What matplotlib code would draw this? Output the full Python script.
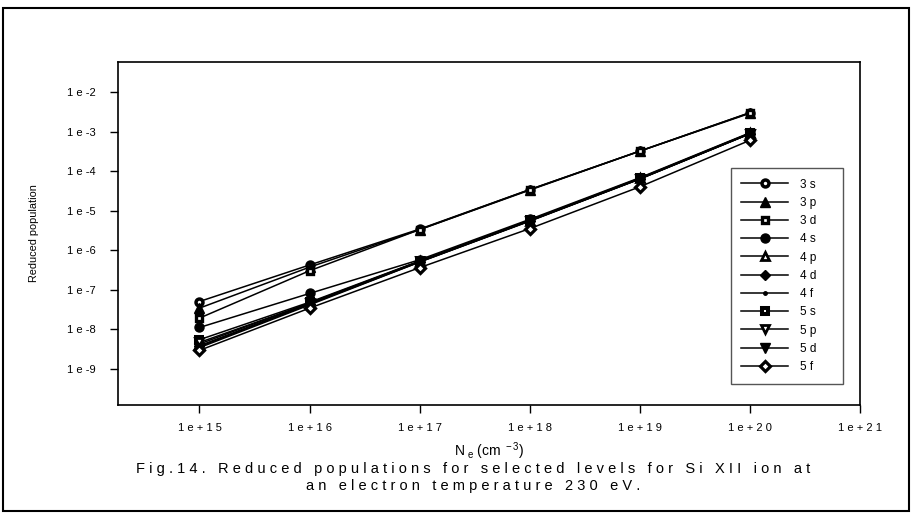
import numpy as np
import matplotlib
matplotlib.use('Agg')
import matplotlib.pyplot as plt
from matplotlib.patches import Rectangle

plt.rcParams['font.family'] = ['Liberation Sans', 'DejaVu Sans']
plt.rcParams['mathtext.default'] = 'regular'

# electron density (cm^-3) and reduced populations
ne = [1e15, 1e16, 1e17, 1e18, 1e19, 1e20]
pop_3s = [5.0e-8, 4.2e-7, 3.4e-6, 3.4e-5, 3.2e-4, 3.0e-3]
pop_3p = [3.4e-8, 3.7e-7, 3.3e-6, 3.4e-5, 3.2e-4, 3.0e-3]
pop_3d = [1.9e-8, 3.0e-7, 3.3e-6, 3.3e-5, 3.2e-4, 2.9e-3]
pop_4s = [1.1e-8, 8.0e-8, 5.7e-7, 6.0e-6, 6.8e-5, 9.3e-4]
pop_4p = [4.2e-9, 4.6e-8, 5.2e-7, 5.6e-6, 6.5e-5, 9.0e-4]
pop_4d = [3.8e-9, 4.4e-8, 5.1e-7, 5.5e-6, 6.4e-5, 8.9e-4]
pop_4f = [3.6e-9, 4.3e-8, 5.0e-7, 5.5e-6, 6.3e-5, 8.8e-4]
pop_5s = [5.4e-9, 4.8e-8, 5.3e-7, 5.7e-6, 6.6e-5, 9.1e-4]
pop_5p = [4.6e-9, 4.5e-8, 5.2e-7, 5.6e-6, 6.4e-5, 8.9e-4]
pop_5d = [3.4e-9, 4.1e-8, 5.0e-7, 5.4e-6, 6.3e-5, 8.8e-4]
pop_5f = [2.9e-9, 3.4e-8, 3.6e-7, 3.5e-6, 4.0e-5, 6.0e-4]

levels = ['3 s', '3 p', '3 d', '4 s', '4 p', '4 d', '4 f', '5 s', '5 p', '5 d', '5 f']
series = [pop_3s, pop_3p, pop_3d, pop_4s, pop_4p, pop_4d, pop_4f, pop_5s, pop_5p, pop_5d, pop_5f]

xtick_vals = [1e15, 1e16, 1e17, 1e18, 1e19, 1e20, 1e21]
xtick_labels = ['1 e + 1 5', '1 e + 1 6', '1 e + 1 7', '1 e + 1 8', '1 e + 1 9', '1 e + 2 0', '1 e + 2 1']
ytick_vals = [1e-9, 1e-8, 1e-7, 1e-6, 1e-5, 1e-4, 1e-3, 1e-2]
ytick_labels = ['1 e -9', '1 e -8', '1 e -7', '1 e -6', '1 e -5', '1 e -4', '1 e -3', '1 e -2']

# marker style per level: (marker, face colour, size, edge width)
styles = [('o', 'white', 5, 2.5),
          ('^', 'black', 6.5, 1.0),
          ('s', 'white', 4.8, 2.4),
          ('o', 'black', 6.5, 1.0),
          ('^', 'white', 5.5, 2.0),
          ('D', 'black', 5.5, 1.0),
          ('o', 'black', 2.5, 1.0),
          ('s', 'white', 4.8, 2.9),
          ('v', 'white', 5.5, 2.0),
          ('v', 'black', 6.5, 1.0),
          ('D', 'white', 4.8, 2.3)]

fig = plt.figure(figsize=(9.12, 5.2), dpi=100)
ax = fig.add_axes([118 / 912, 1 - 405 / 520, (860 - 118) / 912, (405 - 62) / 520])

for lab, ys, (mk, fc, ms, mew) in zip(levels, series, styles):
    ax.plot(ne, ys, color='black', lw=1.1, marker=mk, markerfacecolor=fc,
            markeredgecolor='black', markersize=ms, markeredgewidth=mew,
            label=lab + '     ')

ax.set_xscale('log')
ax.set_yscale('log')
ax.set_xlim(10 ** 14.26, 1e21)
ax.set_ylim(10 ** -9.92, 10 ** -1.24)
ax.set_xticks(xtick_vals)
ax.set_xticklabels(xtick_labels)
ax.set_yticks(ytick_vals)
ax.set_yticklabels(ytick_labels)
ax.minorticks_off()
ax.tick_params(direction='out', length=6, width=1, labelsize=8)
ax.tick_params(axis='x', pad=7)
ax.tick_params(axis='y', pad=10)
for sp in ax.spines.values():
    sp.set_linewidth(1.2)

ax.set_ylabel('Reduced population', fontsize=7.8, labelpad=20)
ax.set_xlabel(r'N$_{\ e}$ (cm$^{\ -3}$)', fontsize=10, labelpad=5)

leg = ax.legend(loc='lower right', bbox_to_anchor=(0.977, 0.062), fontsize=8.5,
                numpoints=1, handlelength=4.0, handletextpad=0.95, labelspacing=0.53,
                borderpad=0.9, fancybox=False, framealpha=1, borderaxespad=0)
leg.get_frame().set_edgecolor('#555555')
leg.get_frame().set_linewidth(1.0)

fig.text(473 / 912, 1 - 469 / 520,
         'F i g . 1 4 .   R e d u c e d   p o p u l a t i o n s   f o r   s e l e c t e d   l e v e l s   f o r   S i   X I I   i o n   a t',
         ha='center', va='center', fontsize=10.5)
fig.text(473 / 912, 1 - 486 / 520,
         'a n   e l e c t r o n   t e m p e r a t u r e   2 3 0   e V .',
         ha='center', va='center', fontsize=10.5)

# outer frame around the whole figure
fig.add_artist(Rectangle((3 / 912, 1 - 511 / 520), 906 / 912, 503 / 520,
                         transform=fig.transFigure, fill=False, lw=1.5, edgecolor='black'))

fig.savefig('out.png', dpi=100)
